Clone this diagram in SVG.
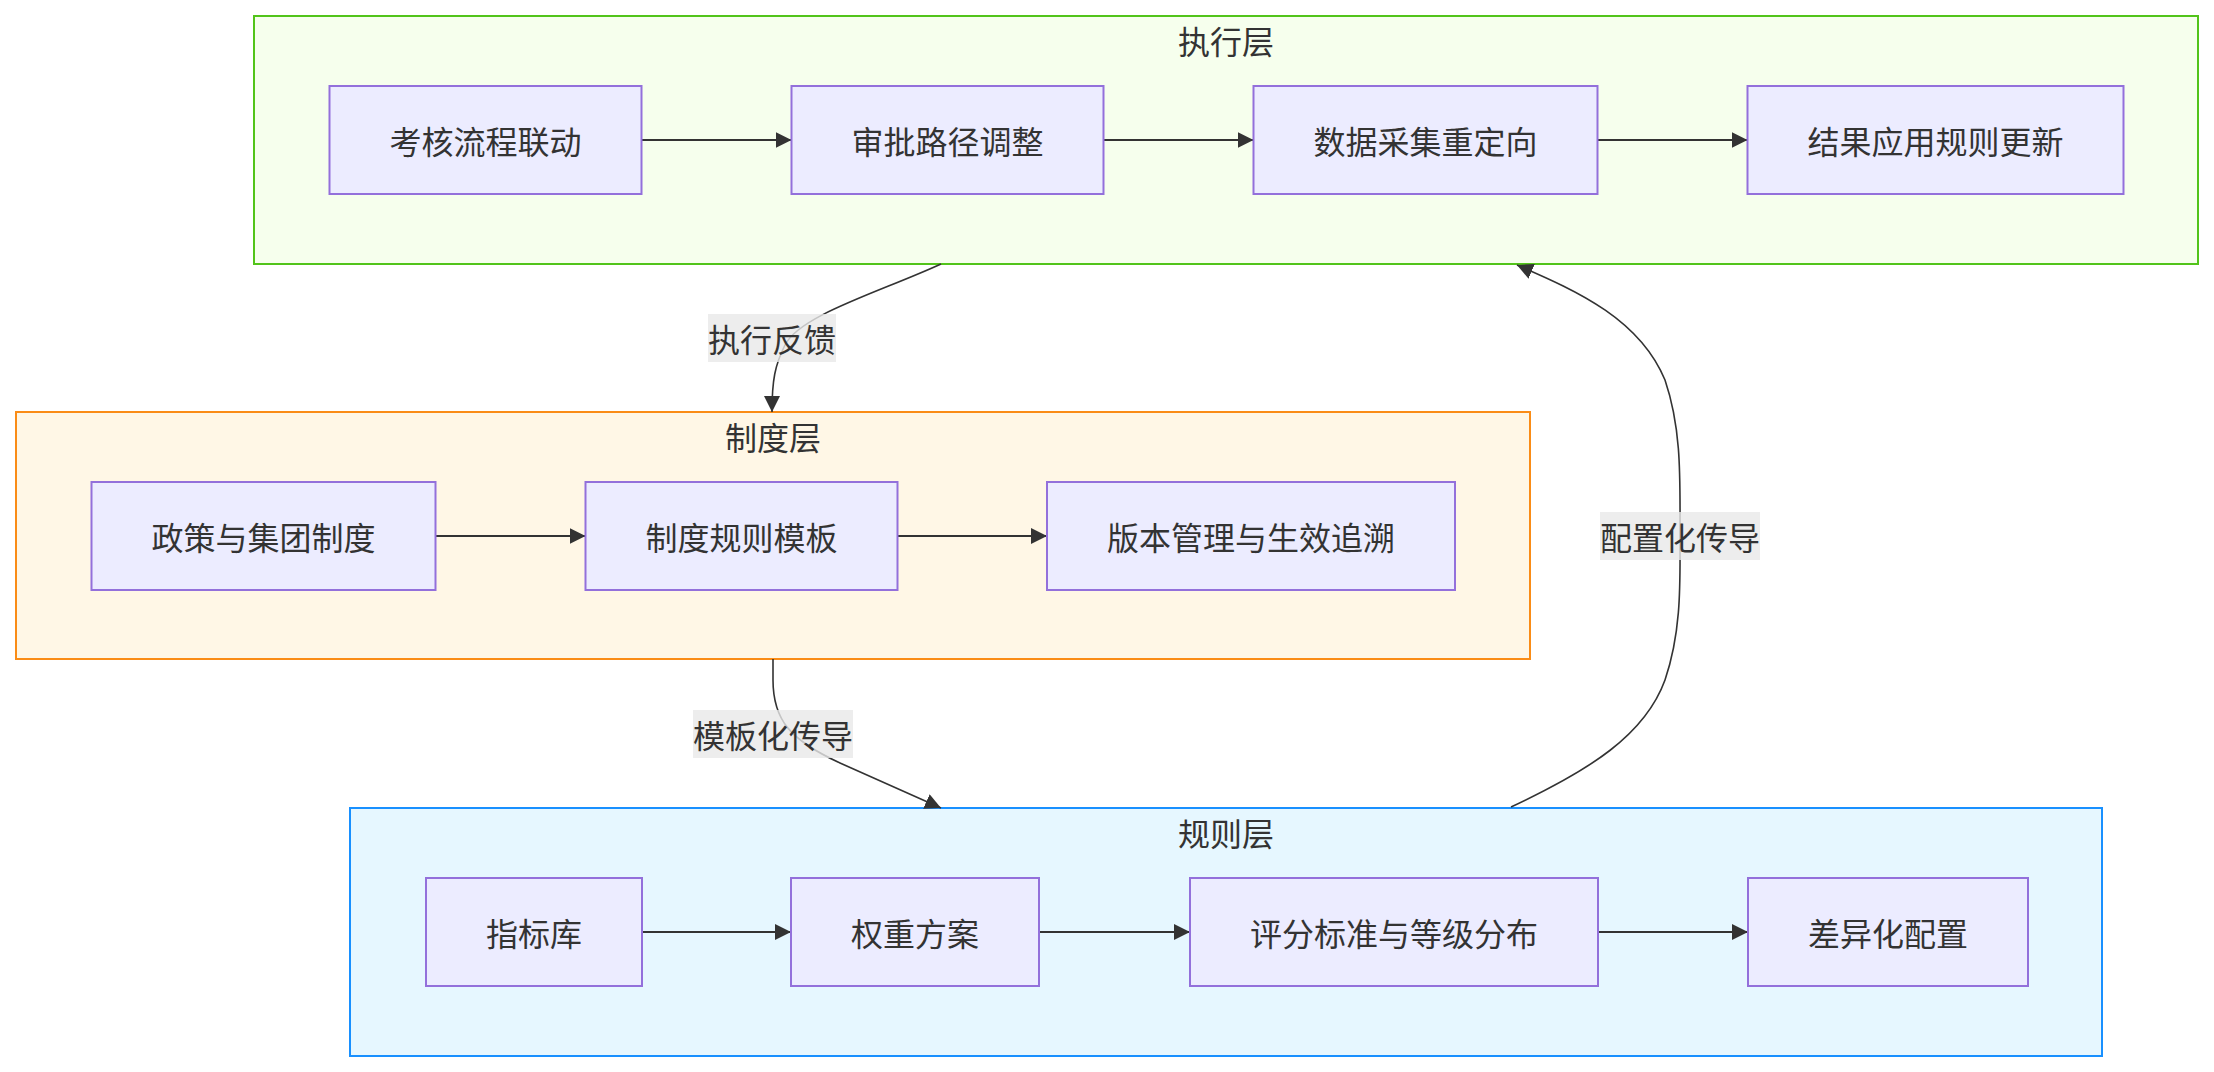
<svg xmlns="http://www.w3.org/2000/svg" width="2214" height="1072" viewBox="0 0 2214 1072">
<style>
  text { font-family: "Noto Sans CJK SC", "Liberation Sans", sans-serif; font-size: 32px; fill: #333; text-anchor: middle; dominant-baseline: central; }
  .node rect { fill: #ECECFF; stroke: #9370DB; stroke-width: 2; }
  .edge { fill: none; stroke: #333; stroke-width: 2; marker-end: url(#arrow); }
  .curve { fill: none; stroke: #333; stroke-width: 1.6; marker-end: url(#arrow); }
  .lbl { fill: rgba(232,232,232,0.8); }
</style>
<defs>
  <marker id="arrow" viewBox="0 0 10 10" refX="10" refY="5" markerUnits="userSpaceOnUse" markerWidth="16" markerHeight="16" orient="auto">
    <path d="M0,0 L10,5 L0,10 z" fill="#333"/>
  </marker>
</defs>
<rect width="2214" height="1072" fill="#ffffff"/>

<g id="cluster-exec">
  <rect x="254" y="16" width="1944" height="248" fill="#f6ffed" stroke="#52c41a" stroke-width="2"/>
  <text x="1226" y="40">执行层</text>
</g>
<g id="cluster-system">
  <rect x="16" y="412" width="1514" height="247" fill="#fff7e6" stroke="#fa8c16" stroke-width="2"/>
  <text x="773" y="436">制度层</text>
</g>
<g id="cluster-rule">
  <rect x="350" y="808" width="1752" height="248" fill="#e6f7ff" stroke="#1890ff" stroke-width="2"/>
  <text x="1226" y="832">规则层</text>
</g>

<g id="connectors">
  <path class="edge" d="M641.5,140 L791.5,140"/>
  <path class="edge" d="M1103.5,140 L1253.5,140"/>
  <path class="edge" d="M1597.5,140 L1747.5,140"/>
  <path class="edge" d="M435.5,536 L585.5,536"/>
  <path class="edge" d="M897.5,536 L1047,536"/>
  <path class="edge" d="M642,932 L791,932"/>
  <path class="edge" d="M1039,932 L1190,932"/>
  <path class="edge" d="M1598,932 L1748,932"/>
  <path class="curve" d="M941,264 C880,292 800,315 785,345 C775,365 772,380 772,412"/>
  <path class="curve" d="M773,659 L773,680 C773,720 790,740 840,763 L941,808"/>
  <path class="curve" d="M1511,807 C1590,770 1645,735 1665,680 C1682,630 1680,580 1680,536 C1680,480 1682,430 1665,380 C1640,320 1580,292 1517,265"/>
  <g id="label-feedback">
    <rect class="lbl" x="708" y="314" width="128" height="48"/>
    <text x="772" y="338">执行反馈</text>
  </g>
  <g id="label-template">
    <rect class="lbl" x="693" y="710" width="160" height="48"/>
    <text x="773" y="734">模板化传导</text>
  </g>
  <g id="label-config">
    <rect class="lbl" x="1600" y="512" width="160" height="48"/>
    <text x="1680" y="536">配置化传导</text>
  </g>
</g>

<g id="node-kaohe" class="node"><rect x="329.5" y="86" width="312" height="108"/><text x="485.5" y="140">考核流程联动</text></g>
<g id="node-shenpi" class="node"><rect x="791.5" y="86" width="312" height="108"/><text x="947.5" y="140">审批路径调整</text></g>
<g id="node-shuju" class="node"><rect x="1253.5" y="86" width="344" height="108"/><text x="1425.5" y="140">数据采集重定向</text></g>
<g id="node-jieguo" class="node"><rect x="1747.5" y="86" width="376" height="108"/><text x="1935.5" y="140">结果应用规则更新</text></g>

<g id="node-zhengce" class="node"><rect x="91.5" y="482" width="344" height="108"/><text x="263.5" y="536">政策与集团制度</text></g>
<g id="node-moban" class="node"><rect x="585.5" y="482" width="312" height="108"/><text x="741.5" y="536">制度规则模板</text></g>
<g id="node-banben" class="node"><rect x="1047" y="482" width="408" height="108"/><text x="1251" y="536">版本管理与生效追溯</text></g>

<g id="node-zhibiao" class="node"><rect x="426" y="878" width="216" height="108"/><text x="534" y="932">指标库</text></g>
<g id="node-quanzhong" class="node"><rect x="791" y="878" width="248" height="108"/><text x="915" y="932">权重方案</text></g>
<g id="node-pingfen" class="node"><rect x="1190" y="878" width="408" height="108"/><text x="1394" y="932">评分标准与等级分布</text></g>
<g id="node-chayi" class="node"><rect x="1748" y="878" width="280" height="108"/><text x="1888" y="932">差异化配置</text></g>
</svg>
